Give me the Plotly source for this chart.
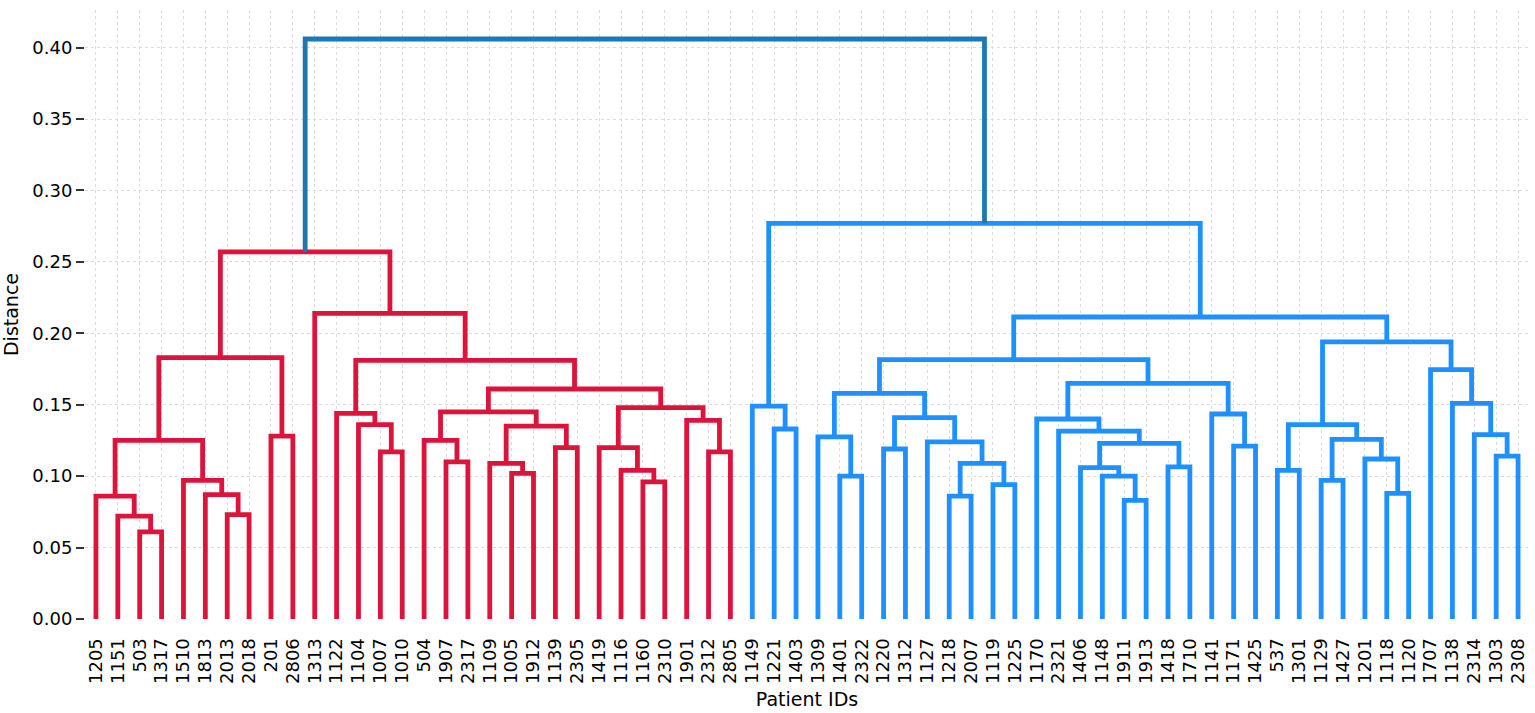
import plotly.graph_objects as go

# Leaf labels in dendrogram order
patient_ids = ["1205", "1151", "503", "1317", "1510", "1813", "2013", "2018", "201", "2806",
               "1313", "1122", "1104", "1007", "1010", "504", "1907", "2317", "1109", "1005",
               "1912", "1139", "2305", "1419", "1116", "1160", "2310", "1901", "2312", "2805",
               "1149", "1221", "1403", "1309", "1401", "2322", "1220", "1312", "1127", "1218",
               "2007", "1119", "1225", "1170", "2321", "1406", "1148", "1911", "1913", "1418",
               "1710", "1141", "1171", "1425", "537", "1301", "1129", "1427", "1201", "1118",
               "1120", "1707", "1138", "2314", "1303", "2308"]

# Linkage: children (leaf index < 66, else 66 + merge index) and merge distance
merge_left = [2, 1, 0, 6, 5, 4, 68, 8, 72, 13, 12, 11, 16, 15, 19, 18, 21, 81, 79, 25,
              24, 23, 28, 27, 87, 84, 77, 10, 74,
              31, 30, 34, 33, 36, 39, 41, 100, 38, 99, 98, 47, 46, 45, 49, 108, 44, 43, 52, 51,
              112, 105, 54, 56, 59, 58, 118, 117, 64, 63, 62, 61, 122, 116, 96,
              94]
merge_right = [3, 66, 67, 7, 69, 70, 71, 9, 73, 14, 75, 76, 17, 78, 20, 80, 22, 82, 83, 26,
               85, 86, 29, 88, 89, 90, 91, 92, 93,
               32, 95, 35, 97, 37, 40, 42, 101, 102, 103, 104, 48, 106, 107, 50, 109, 110, 111,
               53, 113, 114, 115, 55, 57, 60, 119, 120, 121, 65, 123, 124, 125, 126, 127, 128,
               129]
merge_height = [0.061, 0.072, 0.086, 0.073, 0.087, 0.097, 0.125, 0.128, 0.183, 0.117,
                0.136, 0.144, 0.110, 0.125, 0.102, 0.109, 0.120, 0.135, 0.145, 0.096,
                0.104, 0.120, 0.117, 0.139, 0.148, 0.161, 0.181, 0.214, 0.257,
                0.133, 0.149, 0.100, 0.1275, 0.119, 0.086, 0.094, 0.109, 0.124, 0.141,
                0.158, 0.083, 0.100, 0.106, 0.1065, 0.123, 0.1315, 0.140, 0.121, 0.1435,
                0.165, 0.1816, 0.104, 0.097, 0.088, 0.112, 0.1257, 0.136, 0.114, 0.129,
                0.151, 0.1746, 0.194, 0.2114, 0.277,
                0.406]

y_ticks = [0.0, 0.05, 0.10, 0.15, 0.20, 0.25, 0.30, 0.35, 0.40]

color_threshold = 0.3
cluster_colors = ["#DC143C", "#1E90FF"]
above_color = "#1F77B4"

n = len(patient_ids)
leaf_x = [5 + 10 * i for i in range(n)]

node_x = {i: leaf_x[i] for i in range(n)}
node_h = {i: 0.0 for i in range(n)}
segments = []
for k, (a, b, h) in enumerate(zip(merge_left, merge_right, merge_height)):
    nid = n + k
    node_x[nid] = (node_x[a] + node_x[b]) / 2
    node_h[nid] = h
    segments.append((nid, [node_x[a], node_x[a], node_x[b], node_x[b]],
                     [node_h[a], h, h, node_h[b]]))

# assign colors like scipy: clusters below threshold each get a palette color
top_clusters = []
def find_clusters(nid):
    if node_h[nid] < color_threshold:
        top_clusters.append(nid)
    else:
        k = nid - n
        find_clusters(merge_left[k])
        find_clusters(merge_right[k])
find_clusters(n + len(merge_height) - 1)
node_color = {}
for ci, cid in enumerate(top_clusters):
    col = cluster_colors[ci % len(cluster_colors)]
    stack = [cid]
    while stack:
        c = stack.pop()
        node_color[c] = col
        if c >= n:
            stack += [merge_left[c - n], merge_right[c - n]]

groups = {}
for nid, xs, ys in segments:
    col = node_color.get(nid, above_color)
    gx, gy = groups.setdefault(col, ([], []))
    gx += xs + [None]
    gy += ys + [None]

fig = go.Figure()
for col, (gx, gy) in groups.items():
    fig.add_trace(go.Scatter(x=gx, y=gy, mode="lines",
                             line=dict(color=col, width=4.8),
                             hoverinfo="skip", showlegend=False))

font = "DejaVu Sans, Arial, sans-serif"
fig.update_layout(
    width=1535, height=713,
    margin=dict(l=85, r=6, t=10, b=94),
    paper_bgcolor="white", plot_bgcolor="white",
    font=dict(family=font, size=18, color="black"),
    showlegend=False,
)
fig.update_xaxes(
    range=[0, 10 * n],
    tickmode="array", tickvals=leaf_x, ticktext=patient_ids,
    tickangle=-90, tickfont=dict(size=18),
    ticks="outside", ticklen=11, tickcolor="rgba(0,0,0,0)",
    showgrid=True, gridcolor="#dcdcdc", griddash="dot", gridwidth=1,
    zeroline=False, showline=False, automargin=False,
    title=dict(text="Patient IDs", font=dict(size=19), standoff=9),
)
fig.update_yaxes(
    range=[0, max(merge_height) * 1.05],
    tickmode="array", tickvals=y_ticks, tickformat=".2f",
    tickfont=dict(size=18),
    ticks="outside", ticklen=8, tickcolor="#333333", tickwidth=1.5,
    showgrid=True, gridcolor="#dcdcdc", griddash="dot", gridwidth=1,
    zeroline=False, showline=False, automargin=False,
    title=dict(text="Distance", font=dict(size=19), standoff=8),
)

fig.write_html(
    "out.html",
    config={"displayModeBar": False},
    post_script="document.body.style.margin='0';document.body.style.overflow='hidden';",
)
